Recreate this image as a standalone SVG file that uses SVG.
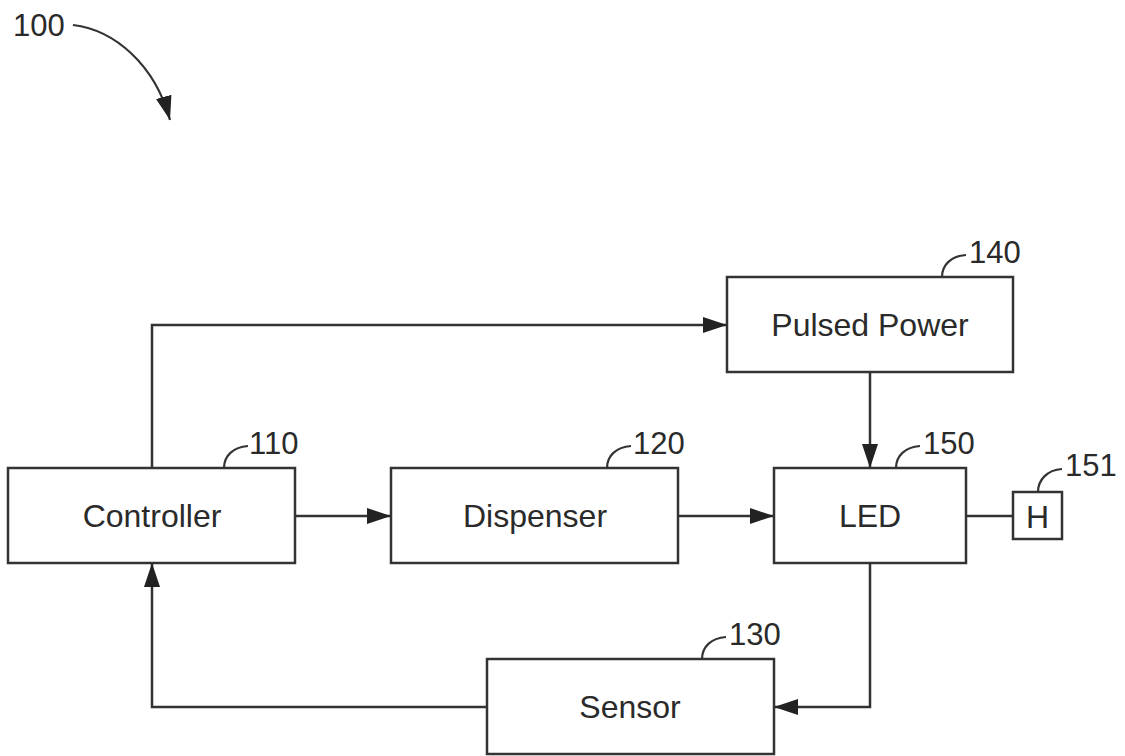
<svg xmlns="http://www.w3.org/2000/svg" width="1125" height="756" viewBox="0 0 1125 756">
<defs>
<style>
.box{fill:#fff;stroke:#333;stroke-width:2.5}
.lbl{font-family:"Liberation Sans",Arial,sans-serif;font-size:32px;fill:#2a2a2a;text-anchor:middle}
.num{font-family:"Liberation Sans",Arial,sans-serif;font-size:31px;fill:#2a2a2a}
.ln{fill:none;stroke:#333;stroke-width:2.5}
.ld{fill:none;stroke:#333;stroke-width:2.2}
</style>
<marker id="ah" viewBox="0 0 24 16" refX="24" refY="8" markerWidth="24" markerHeight="16" markerUnits="userSpaceOnUse" orient="auto">
<path d="M0,0 L24,8 L0,16 Z" fill="#222"/>
</marker>
</defs>
<rect width="1125" height="756" fill="#fff"/>
<g id="ref100">
<text class="num" x="13" y="36">100</text>
<path class="ld" d="M73,25 C115,30 155,65 170,120" marker-end="url(#ah)"/>
</g>
<g id="connectors">
<path class="ln" d="M152,468 V325 H727" marker-end="url(#ah)"/>
<path class="ln" d="M870,372 V468" marker-end="url(#ah)"/>
<path class="ln" d="M295,516 H391" marker-end="url(#ah)"/>
<path class="ln" d="M678,516 H774" marker-end="url(#ah)"/>
<path class="ln" d="M966,516 H1013"/>
<path class="ln" d="M870,563 V707 H774" marker-end="url(#ah)"/>
<path class="ln" d="M487,707 H152 V563" marker-end="url(#ah)"/>
</g>
<g id="controller">
<rect class="box" x="8" y="468" width="287" height="95"/>
<text class="lbl" x="152" y="527">Controller</text>
<path class="ld" d="M224,468 C224,456 233,447 248,446"/>
<text class="num" x="249" y="454">110</text>
</g>
<g id="dispenser">
<rect class="box" x="391" y="468" width="287" height="95"/>
<text class="lbl" x="535" y="527">Dispenser</text>
<path class="ld" d="M607,468 C607,456 616,447 631,446"/>
<text class="num" x="633" y="454">120</text>
</g>
<g id="led">
<rect class="box" x="774" y="468" width="192" height="95"/>
<text class="lbl" x="870" y="527">LED</text>
<path class="ld" d="M896,468 C896,456 905,447 920,446"/>
<text class="num" x="923" y="454">150</text>
</g>
<g id="heater">
<rect class="box" x="1013" y="492" width="49" height="47"/>
<text class="lbl" x="1037.500" y="528">H</text>
<path class="ld" d="M1038,492 C1038,480 1047,470 1062,469"/>
<text class="num" x="1065" y="476">151</text>
</g>
<g id="pulsed-power">
<rect class="box" x="727" y="277" width="286" height="95"/>
<text class="lbl" x="870" y="336">Pulsed Power</text>
<path class="ld" d="M942,277 C942,265 951,256 966,255"/>
<text class="num" x="969" y="263">140</text>
</g>
<g id="sensor">
<rect class="box" x="487" y="659" width="287" height="95"/>
<text class="lbl" x="630" y="718">Sensor</text>
<path class="ld" d="M702,659 C702,647 711,638 726,637"/>
<text class="num" x="729" y="645">130</text>
</g>
</svg>
